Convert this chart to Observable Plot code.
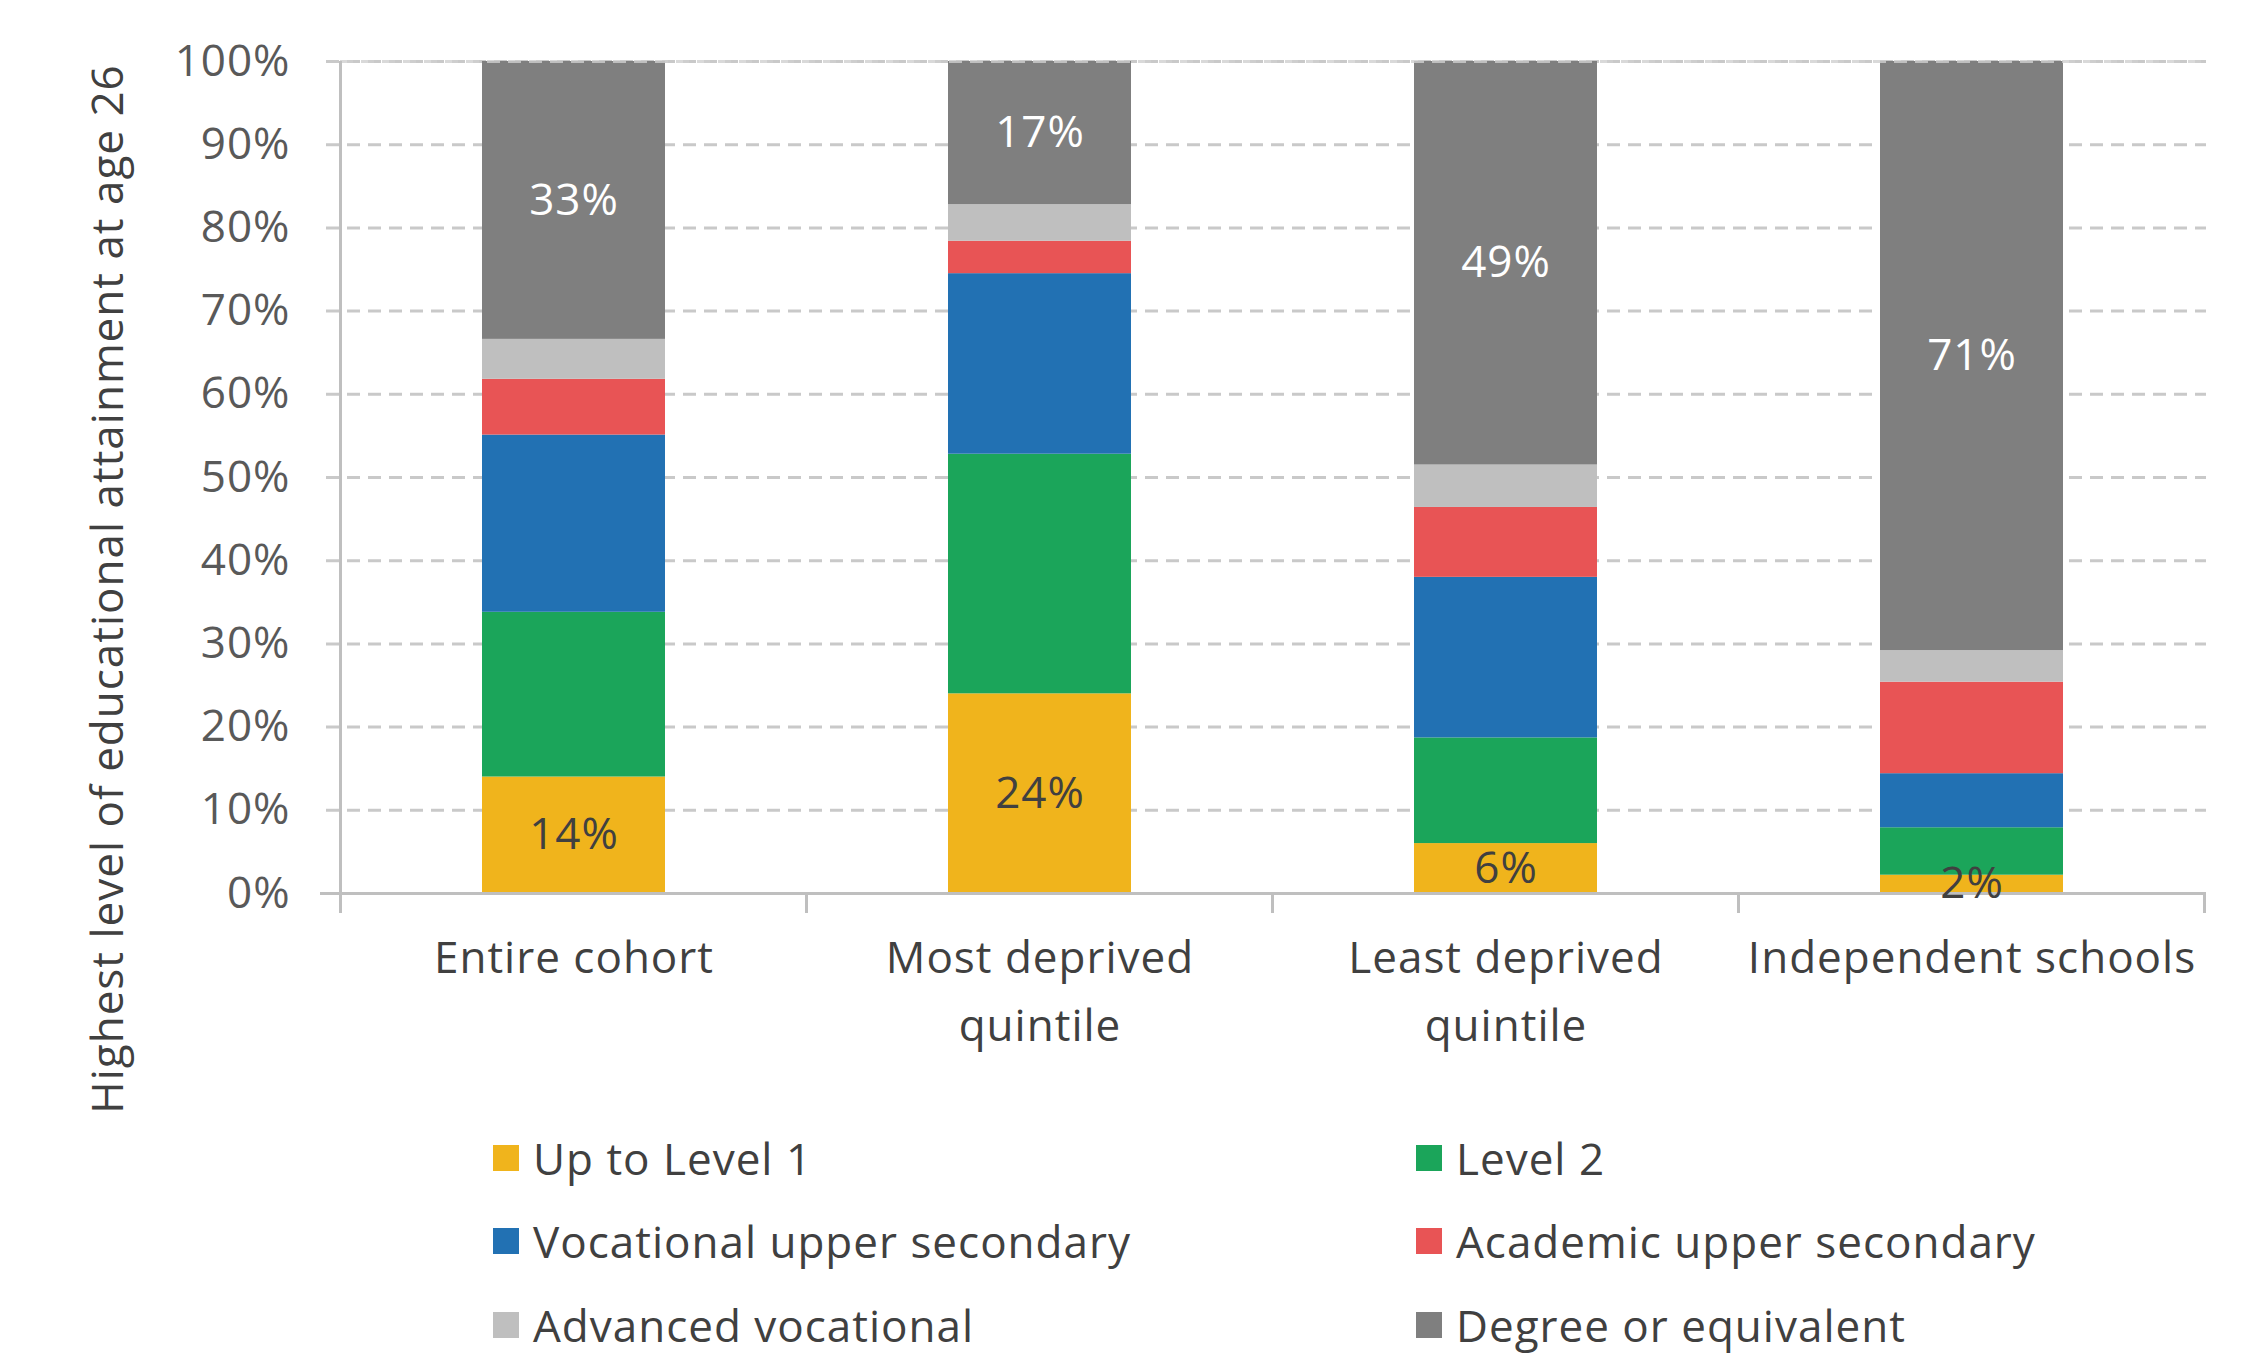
<!DOCTYPE html>
<html>
<head>
<meta charset="utf-8">
<script src="https://cdn.jsdelivr.net/npm/d3@7"></script>
<script src="https://cdn.jsdelivr.net/npm/@observablehq/plot@0.6"></script>
<style>
  html, body { margin: 0; padding: 0; background: #fff; }
  #wrap { position: relative; width: 2262px; height: 1371px; font-family: "Open Sans", sans-serif; }
  #ytitle { position: absolute; left: 106px; top: 589px; transform: translate(-50%, -50%) rotate(-90deg);
            white-space: nowrap; font-size: 44px; letter-spacing: 1px; color: #404040; }
  #legend { position: absolute; left: 493px; top: 1116px; display: grid;
            grid-template-columns: 923px auto; grid-auto-rows: 83.5px; }
  .item { display: flex; align-items: center; font-size: 44px; letter-spacing: 1px; color: #404040; white-space: nowrap; }
  .sw { width: 26px; height: 26px; margin-right: 14px; flex: none; }
</style>
</head>
<body>
<div id="wrap"><div id="chart"></div><div id="ytitle"></div><div id="legend"></div></div>
<script>
// ---- data ----
const categories = ["Entire cohort", "Most deprived\nquintile", "Least deprived\nquintile", "Independent schools"];
const series = ["Up to Level 1", "Level 2", "Vocational upper secondary", "Academic upper secondary", "Advanced vocational", "Degree or equivalent"];
const colors = ["#F0B41C", "#1BA55A", "#2271B3", "#E85455", "#BFBFBF", "#7F7F7F"];
const upToLevel1   = [14.0, 24.0, 6.0, 2.2];
const level2       = [19.8, 28.8, 12.7, 5.7];
const vocationalUS = [21.3, 21.7, 19.3, 6.5];
const academicUS   = [6.7, 3.9, 8.4, 11.0];
const advancedVoc  = [4.8, 4.4, 5.1, 3.8];
const degree       = [33.4, 17.2, 48.5, 70.8];
const labelledSeries = ["Up to Level 1", "Degree or equivalent"];
const yTicks = [0, 10, 20, 30, 40, 50, 60, 70, 80, 90, 100];
const yTitle = "Highest level of educational attainment at age 26";

const seriesValues = [upToLevel1, level2, vocationalUS, academicUS, advancedVoc, degree];
const rows = [];
categories.forEach((c, i) => series.forEach((s, j) => rows.push({category: c, series: s, value: seriesValues[j][i]})));

const gridColor = "#C9C9C9";
const axisColor = "#BFBFBF";

function xAxisLines(index, scales, values, dimensions) {
  const x = scales.x, y = scales.y;
  const bw = typeof x.bandwidth === "function" ? x.bandwidth() : 0;
  const step = typeof x.step === "function" ? x.step() : (dimensions.width - dimensions.marginLeft - dimensions.marginRight) / categories.length;
  const base = y(0), top = y(100);
  const g = d3.create("svg:g").attr("stroke", axisColor).attr("stroke-width", 3);
  const bounds = categories.map(c => x(c) + bw / 2 - step / 2);
  bounds.push(bounds[bounds.length - 1] + step);
  bounds.forEach((bx, i) => {
    g.append("line").attr("x1", bx).attr("x2", bx)
      .attr("y1", i === 0 ? top : base).attr("y2", base + 20);
  });
  return g.node();
}

const chart = Plot.plot({
  width: 2262,
  height: 1110,
  marginTop: 61,
  marginBottom: 217,
  marginLeft: 340,
  marginRight: 56,
  style: {fontFamily: "Open Sans, sans-serif", fontSize: "44px", letterSpacing: "1px", color: "#595959", background: "#fff"},
  x: {domain: categories, paddingInner: 0.607, paddingOuter: 0.3035, axis: null},
  y: {domain: [0, 100], axis: null},
  color: {domain: series, range: colors},
  marks: [
    Plot.ruleY(yTicks.filter(t => t > 0), {stroke: gridColor, strokeWidth: 3, strokeDasharray: "13,8", insetLeft: -14}),
    Plot.barY(rows, Plot.stackY({x: "category", y: "value", fill: "series", order: series})),
    Plot.ruleY([100], {stroke: "#D0D0D0", strokeWidth: 3, strokeDasharray: "13,8", strokeOpacity: 0.8}),
    Plot.ruleY([0], {stroke: axisColor, strokeWidth: 3, insetLeft: -20}),
    xAxisLines,
    Plot.axisY({ticks: yTicks, label: null, tickSize: 0, tickPadding: 50, tickFormat: d => d + "%", fontSize: 44, fill: "#595959"}),
    Plot.text(rows, Plot.stackY({
      x: "category", y: "value", z: "series", order: series,
      text: d => labelledSeries.includes(d.series) ? Math.round(d.value) + "%" : "",
      fill: d => d.series === "Degree or equivalent" ? "#FFFFFF" : "#404040",
      fontSize: 44
    })),
    Plot.text(categories, {x: d => d, frameAnchor: "bottom", lineAnchor: "top", dy: 31, lineHeight: 1.55, fontSize: 44, fill: "#404040", text: d => d})
  ]
});
document.getElementById("chart").appendChild(chart);
document.getElementById("ytitle").textContent = yTitle;

const legend = document.getElementById("legend");
series.forEach((s, i) => {
  const item = document.createElement("div");
  item.className = "item";
  const sw = document.createElement("span");
  sw.className = "sw";
  sw.style.background = colors[i];
  item.appendChild(sw);
  item.appendChild(document.createTextNode(s));
  legend.appendChild(item);
});
</script>
</body>
</html>
